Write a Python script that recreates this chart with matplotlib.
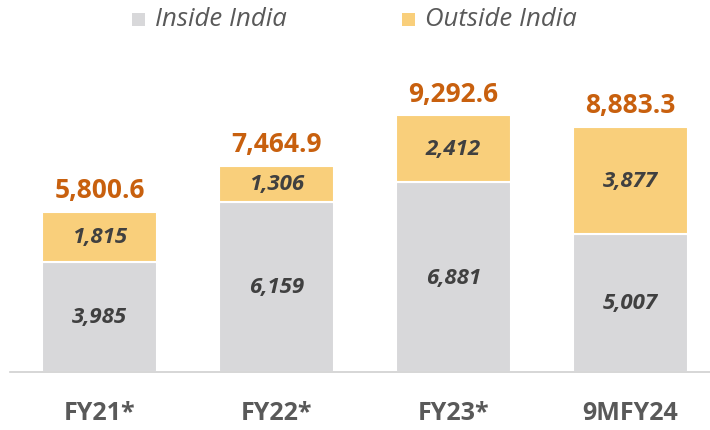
import matplotlib.pyplot as plt
from matplotlib.patches import Rectangle
import numpy as np

plt.rcParams['font.family'] = ['Open Sans', 'DejaVu Sans']

categories = ['FY21*', 'FY22*', 'FY23*', '9MFY24']
inside = [3985, 6159, 6881, 5007]
outside = [1815, 1306, 2412, 3877]
totals = ['5,800.6', '7,464.9', '9,292.6', '8,883.3']
legend_labels = ['Inside India', 'Outside India']

col_in = '#D8D8DA'
col_out = '#F9CF7B'
col_total = '#C8600E'
col_text = '#404040'

W, H = 710, 431
fig = plt.figure(figsize=(W / 100, H / 100), dpi=100)
ax = fig.add_axes([10 / W, 58 / H, 700 / W, 323 / H])

x = np.arange(len(categories))
w = 0.65
ax.bar(x, inside, w, color=col_in, edgecolor='white', linewidth=1.5)
ax.bar(x, outside, w, bottom=inside, color=col_out, edgecolor='white', linewidth=1.5)

for i in range(len(categories)):
    ax.text(x[i], inside[i] / 2, '{:,}'.format(inside[i]), ha='center', va='center',
            fontsize=16, fontweight='bold', style='italic', color=col_text)
    ax.text(x[i], inside[i] + outside[i] / 2, '{:,}'.format(outside[i]), ha='center', va='center',
            fontsize=16, fontweight='bold', style='italic', color=col_text)
    ax.text(x[i], inside[i] + outside[i] + 540, totals[i], ha='center', va='baseline',
            fontsize=19, fontweight='bold', color=col_total)

ax.set_xlim(-0.5056, -0.5056 + 700 / 177)
ax.set_ylim(0, 11700)
ax.set_xticks(x)
ax.set_xticklabels(categories, fontsize=18, fontweight='bold', color='#595959')
ax.tick_params(axis='x', length=0, pad=20)
ax.set_yticks([])
for s in ['top', 'right', 'left']:
    ax.spines[s].set_visible(False)
ax.spines['bottom'].set_color('#D0D0D0')
ax.spines['bottom'].set_linewidth(1.2)

# legend drawn by hand at the top
for lx, col, lab in zip([132, 402], [col_in, col_out], legend_labels):
    fig.patches.append(Rectangle((lx / W, 1 - 27 / H), 13 / W, 13 / H,
                                 transform=fig.transFigure, facecolor=col, edgecolor='none'))
    fig.text((lx + 23) / W, 1 - 20 / H, lab, ha='left', va='center',
             fontsize=18.5, style='italic', color='#595959')

fig.savefig('out.png', dpi=100)
